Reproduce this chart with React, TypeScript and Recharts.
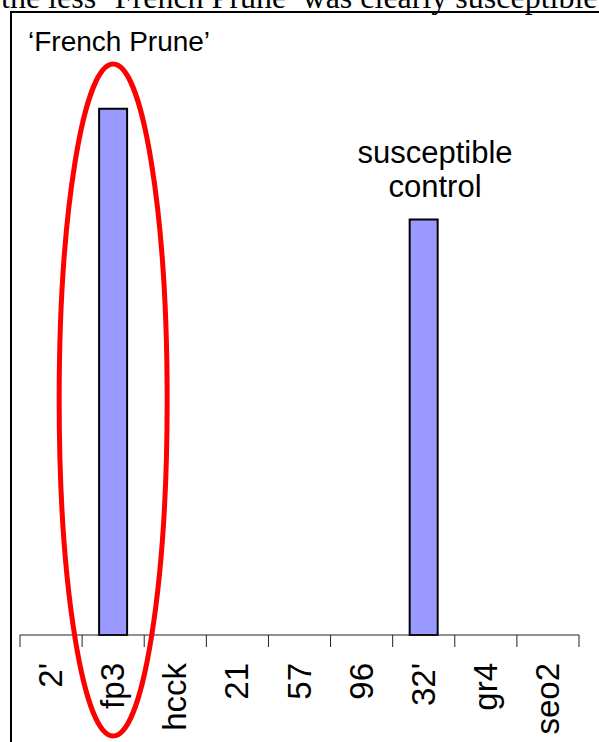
import { BarChart, Bar, XAxis, YAxis, ReferenceDot } from 'recharts'

// Categories and values
const cultivars = ["2'", 'fp3', 'hcck', '21', '57', '96', "32'", 'gr4', 'seo2']
const infection = [0, 95, 0, 0, 0, 0, 75, 0, 0]

const data = cultivars.map((name, i) => ({ name, value: infection[i] }))

const W = 599
const H = 742
const LEFT = 20
const RIGHT = 20
const band = (W - LEFT - RIGHT) / cultivars.length

// Tick: a divider line on the left edge of each band (and at the end), rotated label
const CategoryTick = ({ x, y, payload, index }: any) => {
  return (
    <g transform={`translate(${x},${y})`}>
      <line x1={-band / 2} y1={0} x2={-band / 2} y2={12} stroke="#222" strokeWidth={1} />
      {index === cultivars.length - 1 && (
        <line x1={band / 2} y1={0} x2={band / 2} y2={12} stroke="#222" strokeWidth={1} />
      )}
      <text
        transform="translate(0,28) rotate(-90)"
        x={0}
        y={11}
        textAnchor="end"
        fontFamily="'Liberation Sans', Arial, sans-serif"
        fontSize={33}
        fill="#000"
      >
        {payload.value}
      </text>
    </g>
  )
}

// Red ellipse drawn around the French Prune bar
const Ellipse = ({ cx, cy }: any) => (
  <ellipse cx={cx} cy={cy} rx={54} ry={336} fill="none" stroke="#ff0000" strokeWidth={5} />
)

export default function App() {
  return (
    <div style={{ position: 'absolute', left: 0, top: 0, width: W, height: H, overflow: 'hidden', background: '#fff' }}>
      <BarChart width={W} height={H} data={data} margin={{ top: 81, right: RIGHT, bottom: 0, left: LEFT }}>
        <YAxis hide domain={[0, 100]} />
        <XAxis
          dataKey="name"
          height={H - 635}
          axisLine={{ stroke: '#222', strokeWidth: 1 }}
          tickLine={false}
          tickSize={0}
          tickMargin={0}
          interval={0}
          tick={<CategoryTick />}
        />
        <Bar dataKey="value" fill="#9999ff" stroke="#000" strokeWidth={2} barSize={28} isAnimationActive={false} />
        <ReferenceDot x="fp3" y={42.4} r={1} shape={<Ellipse />} />
      </BarChart>
      <svg width={W} height={H} style={{ position: 'absolute', left: 0, top: 0, pointerEvents: 'none' }}>
        <text x={1} y={8} fontFamily="'Liberation Serif', 'Times New Roman', serif" fontSize={32} fill="#000">
          the less ‘French Prune’ was clearly susceptible
        </text>
        <rect x={11} y={12} width={W + 20} height={H + 20} fill="none" stroke="#000" strokeWidth={2} />
        <g fontFamily="'Liberation Sans', Arial, sans-serif" fill="#000">
          <text x={28} y={51} fontSize={28}>‘French Prune’</text>
          <text x={435} y={163} fontSize={31} textAnchor="middle">susceptible</text>
          <text x={435} y={197} fontSize={31} textAnchor="middle">control</text>
        </g>
      </svg>
    </div>
  )
}
